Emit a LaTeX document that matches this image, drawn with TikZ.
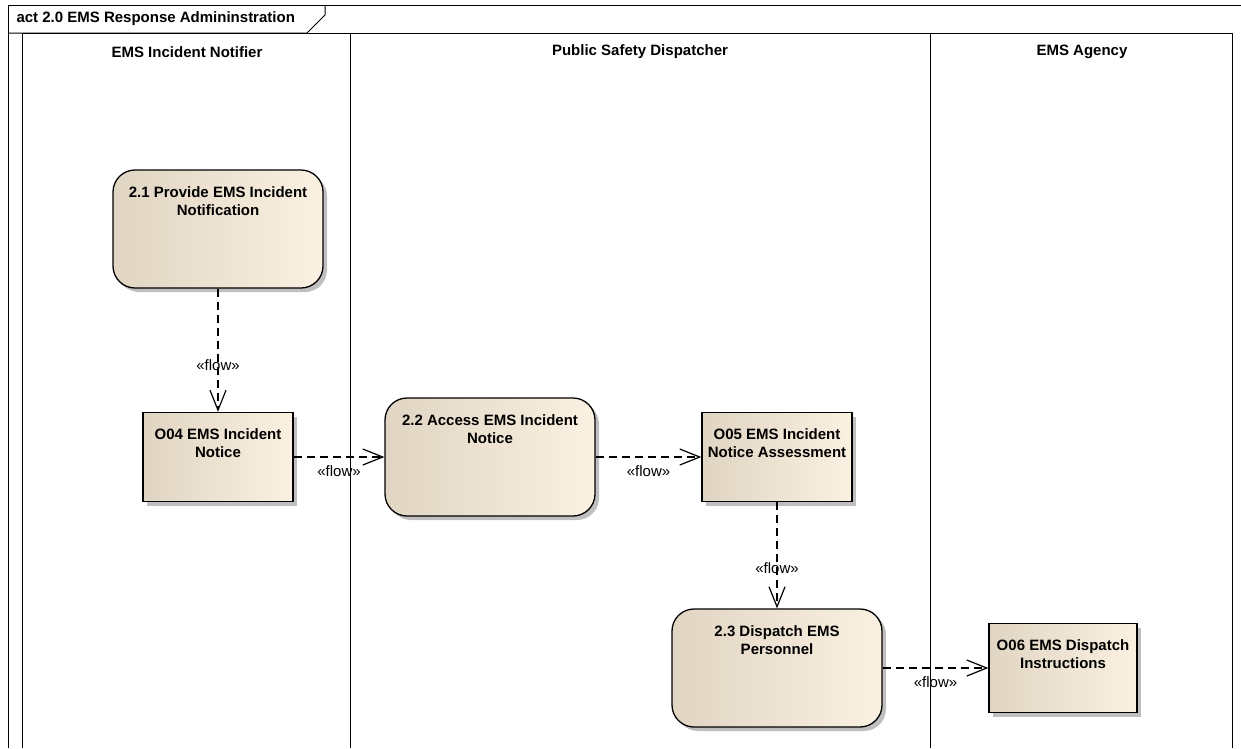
\documentclass[tikz,border=0pt]{standalone}
\usepackage{fontspec}
\setmainfont{Liberation Sans}
\usetikzlibrary{arrows.meta,shadows}

\definecolor{boxleft}{RGB}{224,213,194}
\definecolor{boxright}{RGB}{251,241,226}

\begin{document}
\begin{tikzpicture}[x=1pt, y=1pt, font=\fontsize{15}{18}\selectfont,
	objbox/.style={draw, line width=1.3pt, left color=boxleft, right color=boxright, general shadow={fill=black!25, shadow xshift=4pt, shadow yshift=-4pt}, minimum width=150pt, minimum height=89pt, inner sep=0pt},
	actbox/.style={objbox, rounded corners=22pt, minimum width=210pt, minimum height=118pt},
	boxlabel/.style={anchor=north, yshift=-17pt, inner sep=0pt, align=center, font=\bfseries\fontsize{15}{18}\selectfont},
	lanehead/.style={font=\bfseries\fontsize{15}{18}\selectfont},
	flowline/.style={line width=1.2pt, dash pattern=on 8pt off 5pt, -{Straight Barb[length=20pt,width=16pt]}},
	flowlabel/.style={font=\fontsize{15}{18}\selectfont, inner sep=2pt}]
					\useasboundingbox (0,0) rectangle (1241,-748);
					% frame and swimlanes
					\draw[line width=1pt] (8,-748) -- (8,-5) -- (1241,-5);
					\draw[line width=1pt] (325,-5) -- (325,-15) -- (307,-33) -- (8,-33);
					\draw[line width=1pt] (22,-748) -- (22,-33) -- (1232,-33) -- (1232,-748);
					\draw[line width=1pt] (350,-33) -- (350,-748);
					\draw[line width=1pt] (930,-33) -- (930,-748);
					\node[anchor=west, lanehead] (title) at (13,-19) {act 2.0 EMS Response Admininstration};
					\node[lanehead] (lane1) at (187,-52) {EMS Incident Notifier};
					\node[lanehead] (lane2) at (640,-52) {Public Safety Dispatcher};
					\node[lanehead] (lane3) at (1082,-52) {EMS Agency};
					% activities and objects
					\node[actbox, label={[boxlabel]north:2.1 Provide EMS Incident\\Notification}] (act21) at (218,-229) {};
					\node[objbox, label={[boxlabel]north:O04 EMS Incident\\Notice}] (obj04) at (218,-457) {};
					\node[actbox, label={[boxlabel]north:2.2 Access EMS Incident\\Notice}] (act22) at (490,-457) {};
					\node[objbox, label={[boxlabel]north:O05 EMS Incident\\Notice Assessment}] (obj05) at (777,-457) {};
					\node[actbox, label={[boxlabel]north:2.3 Dispatch EMS\\Personnel}] (act23) at (777,-668) {};
					\node[objbox, minimum width=148pt, label={[boxlabel]north:O06 EMS Dispatch\\Instructions}] (obj06) at (1063,-668) {};
					% flows
					\draw[flowline] (act21) -- node[flowlabel, pos=0.62] {«flow»} (obj04);
					\draw[flowline] (obj04) -- node[flowlabel, below=6pt] {«flow»} (act22);
					\draw[flowline] (act22) -- node[flowlabel, below=6pt] {«flow»} (obj05);
					\draw[flowline] (obj05) -- node[flowlabel, pos=0.62] {«flow»} (act23);
					\draw[flowline] (act23) -- node[flowlabel, below=6pt] {«flow»} (obj06);
				\end{tikzpicture}
\end{document}
